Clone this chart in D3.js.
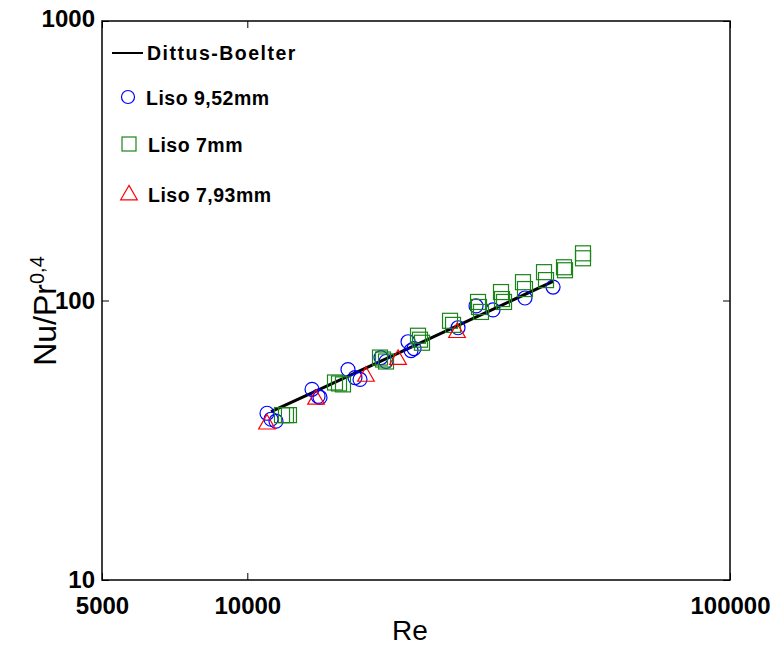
<!DOCTYPE html>
<html>
<head>
<meta charset="utf-8">
<script src="https://cdn.jsdelivr.net/npm/d3@7"></script>
<style>
  html, body { margin: 0; padding: 0; background: #fff; }
  svg { display: block; }
  text { font-family: "Liberation Sans", Arial, Helvetica, sans-serif; }
</style>
</head>
<body>
<svg id="chart" width="771" height="648"></svg>
<script>
// ---- data ----
const xTicks = [5000, 10000, 100000];
const xTickLabels = ["5000", "10000", "100000"];
const yTicks = [10, 100, 1000];
const yTickLabels = ["10", "100", "1000"];

const dbRe  = [11200, 13900, 17400, 20500, 27200, 32500, 43000];
const dbVal = [40.0, 47.5, 56.8, 64.7, 81.2, 93.6, 117.1];

const liso952Re  = [10985, 11197, 11466, 13617, 14015, 14146, 16165, 16714, 17120, 18921, 19380, 21527, 21836, 22150, 27325, 29775, 32285, 37606, 42995];
const liso952Val = [39.5, 37.6, 37.0, 48.1, 45.4, 45.0, 56.6, 53.0, 52.2, 62.5, 60.5, 71.2, 66.2, 67.3, 79.9, 95.6, 92.5, 102.1, 111.7];

const liso7Re  = [11800, 12025, 12198, 15194, 15487, 15785, 18833, 19106, 19380, 22575, 22792, 23010, 26302, 26679, 30060, 30200, 30489, 33542, 33705, 34028, 37250, 37606, 41180, 41576, 45300, 45520, 49600, 49600];
const liso7Val = [38.9, 38.9, 38.9, 50.9, 50.5, 50.1, 62.5, 61.5, 60.5, 74.8, 72.4, 70.6, 84.6, 81.8, 98.8, 94.8, 91.0, 107.2, 101.2, 98.8, 116.3, 109.9, 126.3, 118.3, 131.5, 128.3, 147.5, 141.6];

const liso793Re  = [10985, 13881, 17615, 20527, 27195];
const liso793Val = [36.1, 44.3, 53.5, 61.5, 76.7];

const legendLabels = ["Dittus-Boelter", "Liso 9,52mm", "Liso 7mm", "Liso 7,93mm"];

// ---- layout ----
const L = 102, R = 730, T = 21, B = 580;
const svg = d3.select("#chart");

const x = d3.scaleLog().domain([5000, 100000]).range([L, R]);
const y = d3.scaleLog().domain([10, 1000]).range([B, T]);

// axes box
svg.append("rect").attr("x", L).attr("y", T).attr("width", R - L).attr("height", B - T)
  .attr("fill", "none").attr("stroke", "#000").attr("stroke-width", 1.5);

const xAxisB = d3.axisBottom(x).tickValues(xTicks).tickSize(-7).tickFormat((d, i) => xTickLabels[i]);
const gxb = svg.append("g").attr("transform", `translate(0,${B})`).call(xAxisB);
gxb.select(".domain").remove();
gxb.selectAll("text").attr("dy", null).attr("y", 34)
  .style("font-size", "24px").style("font-weight", "bold").attr("fill", "#000");
gxb.selectAll("line").attr("stroke", "#000");

const xAxisT = d3.axisTop(x).tickValues(xTicks).tickSize(-7).tickFormat("");
const gxt = svg.append("g").attr("transform", `translate(0,${T})`).call(xAxisT);
gxt.select(".domain").remove();

const yAxisL = d3.axisLeft(y).tickValues(yTicks).tickSize(-7).tickFormat((d, i) => yTickLabels[i]);
const gyl = svg.append("g").attr("transform", `translate(${L},0)`).call(yAxisL);
gyl.select(".domain").remove();
gyl.selectAll("text").attr("x", -7).attr("dy", "0.35em")
  .style("font-size", "24px").style("font-weight", "bold").attr("fill", "#000");
gyl.selectAll("text").filter(d => d === 1000).attr("dy", "0.22em");
gyl.selectAll("text").filter(d => d === 10).attr("dy", "0.32em");

const yAxisR = d3.axisRight(y).tickValues(yTicks).tickSize(-7).tickFormat("");
const gyr = svg.append("g").attr("transform", `translate(${R},0)`).call(yAxisR);
gyr.select(".domain").remove();

// axis titles
svg.append("text").attr("x", 410).attr("y", 640).attr("text-anchor", "middle")
  .style("font-size", "28px").text("Re");

const yt = svg.append("text").attr("transform", "translate(56,311) rotate(-90)")
  .attr("text-anchor", "middle").style("font-size", "32px");
yt.append("tspan").text("Nu/Pr");
yt.append("tspan").attr("dy", "-0.62em").style("font-size", "20px").text("0,4");

// Dittus-Boelter line
const lineGen = d3.line().x(d => x(d[0])).y(d => y(d[1]));
svg.append("path").datum(d3.zip(dbRe, dbVal)).attr("d", lineGen)
  .attr("fill", "none").attr("stroke", "#000").attr("stroke-width", 3);

const blue = "#0000ff", green = "#1a841a", red = "#ff0000";

// circles
svg.append("g").selectAll("circle").data(d3.zip(liso952Re, liso952Val)).join("circle")
  .attr("cx", d => x(d[0])).attr("cy", d => y(d[1])).attr("r", 7)
  .attr("fill", "none").attr("stroke", blue).attr("stroke-width", 1.2);

// squares
const sq = 15;
svg.append("g").selectAll("rect").data(d3.zip(liso7Re, liso7Val)).join("rect")
  .attr("x", d => x(d[0]) - sq / 2).attr("y", d => y(d[1]) - sq / 2)
  .attr("width", sq).attr("height", sq)
  .attr("fill", "none").attr("stroke", green).attr("stroke-width", 1.2);

// triangles
const tri = d3.symbol().type(d3.symbolTriangle).size(120);
svg.append("g").selectAll("path").data(d3.zip(liso793Re, liso793Val)).join("path")
  .attr("d", tri).attr("transform", d => `translate(${x(d[0])},${y(d[1])})`)
  .attr("fill", "none").attr("stroke", red).attr("stroke-width", 1.2);

// legend
const lg = svg.append("g");
lg.append("line").attr("x1", 112).attr("x2", 143).attr("y1", 53).attr("y2", 53)
  .attr("stroke", "#000").attr("stroke-width", 2);
const lgText = [[147, 60], [146, 105], [148, 152], [148, 202]];
const lgSpacing = ["1.5px", "0.5px", "0.5px", "0.5px"];
lgText.forEach((p, i) => {
  lg.append("text").attr("x", p[0]).attr("y", p[1]).text(legendLabels[i])
    .style("font-size", "19.5px").style("font-weight", "bold").style("letter-spacing", lgSpacing[i]);
});
lg.append("circle").attr("cx", 128).attr("cy", 97).attr("r", 6.5)
  .attr("fill", "none").attr("stroke", blue).attr("stroke-width", 1.2);
lg.append("rect").attr("x", 122).attr("y", 137).attr("width", 14).attr("height", 14)
  .attr("fill", "none").attr("stroke", green).attr("stroke-width", 1.2);
lg.append("path").attr("d", tri).attr("transform", "translate(129,195)")
  .attr("fill", "none").attr("stroke", red).attr("stroke-width", 1.2);
</script>
</body>
</html>
